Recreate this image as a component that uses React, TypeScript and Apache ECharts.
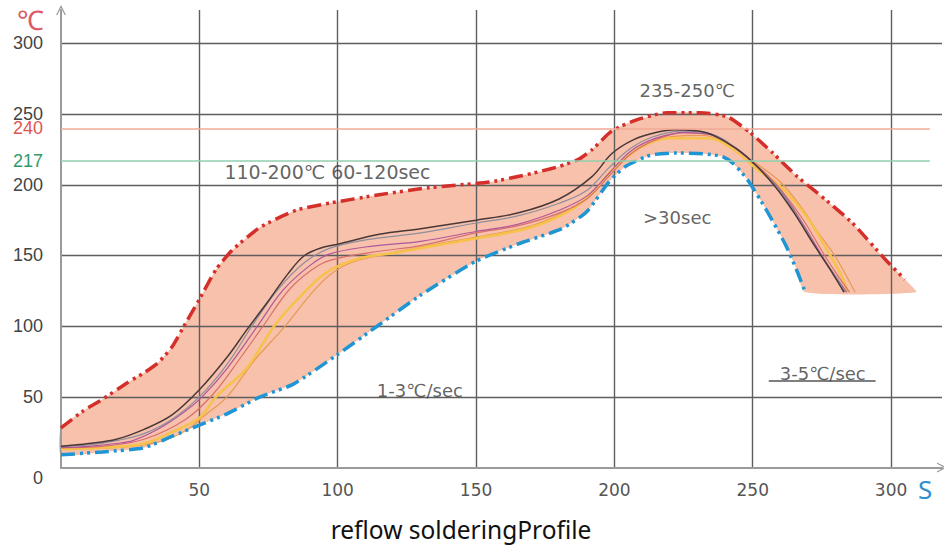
import React, { useEffect, useRef } from 'react';
import * as echarts from 'echarts';

// ---- data (time in s, temperature in ℃) ----
const upperLimit: number[][] = [
  [0, 28], [8, 40], [14, 47], [24, 60], [30, 67], [35, 74], [40, 85], [45, 102], [50, 119], [56, 140], [62, 154],
  [72, 170], [85, 182], [97, 187], [115, 193], [133, 198], [155, 202], [170, 208], [180, 213], [187, 218],
  [192, 225], [199, 238], [208, 246], [219, 251], [231, 251], [241, 248], [249, 237], [257, 223], [266, 206],
  [276, 190], [286, 173], [298, 147], [305, 133],
];
const upperFillEnd: number[][] = [[309, 124]];
const lowerLimit: number[][] = [
  [0, 9], [15, 11], [30, 14], [40, 22], [50, 30], [60, 38], [72, 50], [84, 59], [100, 80], [115, 101],
  [130, 122], [150, 146], [165, 158], [181, 169], [190, 181], [198, 202], [204, 213], [213, 221], [222, 222.5],
  [232, 222], [239, 220], [243, 215], [248, 204], [255, 182], [262, 157], [266, 139], [269, 124],
];
const curveDark: number[][] = [
  [0, 15], [10, 17], [20, 20], [30, 27], [40, 37], [50, 55], [60, 78], [67, 97], [75, 118], [82, 137],
  [88, 150], [95, 156], [100, 158], [115, 165], [130, 169], [150, 175], [165, 180], [180, 190], [192, 206],
  [199, 222], [207, 232], [215, 237], [222, 239], [233, 237], [243, 227], [250, 216], [258, 199], [265, 180],
  [272, 158], [278, 140], [283, 124],
];
const curveGray: number[][] = [
  [0, 15], [10, 16], [20, 19], [30, 24], [40, 34], [50, 50], [60, 73], [69, 100], [78, 125], [88, 145],
  [97, 155], [110, 161], [130, 166], [150, 173], [165, 178], [180, 187], [190, 196], [198, 212], [206, 226],
  [214, 234], [224, 238], [235, 236], [244, 226], [251, 214], [259, 198], [266, 178], [274, 152], [280, 135],
  [283.5, 124],
];
const curveMagenta: number[][] = [
  [0, 14], [10, 15], [20, 17], [26, 19], [35, 27], [45, 40], [51, 50], [60, 70], [71, 100], [80, 125],
  [90, 143], [97, 151], [110, 156], [130, 160], [150, 167], [165, 172], [180, 182], [190, 192], [198, 208],
  [206, 224], [215, 233], [225, 237], [236, 235], [245, 224], [252, 212], [260, 196], [267, 176], [275, 150],
  [280, 135], [284, 124],
];
const curvePink: number[][] = [
  [0, 14], [15, 15], [30, 20], [45, 34], [55, 52], [65, 78], [73, 100], [83, 127], [93, 143], [100, 148],
  [115, 153], [130, 157], [150, 166], [165, 171], [180, 180], [190, 190], [198, 206], [206, 222], [215, 232],
  [225, 237], [236, 235], [245, 224], [252, 213], [260, 197], [268, 176], [276, 150], [281, 135], [285, 124],
];
const curveYellow: number[][] = [
  [0, 13], [15, 14], [30, 17], [40, 25], [50, 35], [56, 50], [67, 70], [77, 100], [86, 120], [96, 138],
  [108, 148], [121, 152], [135, 157], [150, 162], [170, 170], [184, 182], [192, 194], [199, 210], [209, 226],
  [220, 233], [234, 233], [243, 225], [251, 212], [261, 197], [270, 176], [278, 150], [282, 136], [284.5, 124],
];
const curveOrange: number[][] = [
  [0, 13], [20, 14], [35, 18], [45, 26], [52, 37], [60, 50], [70, 76], [81, 100], [90, 122], [97, 136],
  [105, 145], [115, 150], [130, 156], [150, 163], [170, 171], [184, 183], [193, 196], [200, 212], [210, 227],
  [220, 234], [232, 235], [242, 228], [250, 217], [260, 202], [268, 183], [273, 168], [279.6, 150], [284, 135],
  [287, 124],
];
const refTemps = [240, 217];
const refLabelColors = ['#e0564f', '#2e9a6c'];
const refLineColors = ['#f3a896', '#92ceae'];
const noteTexts = ['235-250℃', '>30sec', '110-200℃ 60-120sec', '1-3℃/sec', '3-5℃/sec'];
const noteSizes = [18, 18, 19, 18, 18];
const notePos: number[][] = [[226.3, 266.4], [222.7, 176.7], [96.3, 208.8], [129.7, 54.8], [275.3, 66.8]];
const underline: number[][] = [[255.8, 61.3], [294.4, 61.3]];

const FONT = '"Liberation Sans", Arial, sans-serif';
const WIDE = '"DejaVu Sans", sans-serif';
const CHEVRON = 'path://M0,12 L6,0 L12,12 L10.4,12 L6,3.4 L1.6,12 Z';

function curve(name: string, data: number[][], color: string, width: number) {
  return {
    name, type: 'line', data, smooth: 0.35, symbol: 'none', silent: true, z: 3,
    lineStyle: { color, width },
  };
}

export default function App() {
  const ref = useRef<HTMLDivElement>(null);
  useEffect(() => {
    if (!ref.current) return;
    const chart = echarts.init(ref.current, undefined, { renderer: 'svg' });
    const fillPolygon = [...upperLimit, ...upperFillEnd, ...[...lowerLimit].reverse()];
    const dash = [14, 5, 3, 4, 3, 5];
    const gridLine = { color: '#5e5e5e', width: 1.4 };
    chart.setOption({
      animation: false,
      backgroundColor: '#ffffff',
      title: {
        text: 'reflow solderingProfile', left: 461, top: 515, textAlign: 'center', padding: 0,
        textStyle: { fontFamily: '"Noto Sans", sans-serif', fontSize: 24.5, lineHeight: 28, fontWeight: 'normal', color: '#111' },
      },
      grid: { left: 61, right: 2, top: 10, bottom: 78.5 },
      xAxis: {
        type: 'value', min: 0, max: 318.4, interval: 50,
        axisLine: { show: true, lineStyle: { color: '#9a9a9a', width: 2 }, symbol: ['none', CHEVRON], symbolSize: [12, 10] },
        axisTick: { show: false },
        axisLabel: { showMinLabel: false, showMaxLabel: false, margin: 14, fontSize: 17, color: '#555', fontFamily: WIDE },
        splitLine: { show: true, showMinLine: false, showMaxLine: false, lineStyle: gridLine },
      },
      yAxis: {
        type: 'value', min: 0, max: 323.7, interval: 50,
        axisLine: { show: true, lineStyle: { color: '#9a9a9a', width: 2 }, symbol: ['none', CHEVRON], symbolSize: [12, 10] },
        axisTick: { show: false },
        axisLabel: {
          showMaxLabel: false, margin: 18, fontSize: 18, lineHeight: 14, color: '#444', fontFamily: FONT,
          formatter: (v: number) => (v === 0 ? '{z|0}' : String(v)),
          rich: { z: { fontSize: 18, lineHeight: 14, color: '#444', fontFamily: FONT, padding: [21, 0, 0, 0] } },
        },
        splitLine: { show: true, showMinLine: false, showMaxLine: false, lineStyle: gridLine },
      },
      graphic: [
        { type: 'text', left: 17, top: 7, style: { text: '℃', fontSize: 27, fill: '#dd5a64', fontFamily: FONT } },
        { type: 'text', left: 918, top: 476, style: { text: 'S', fontSize: 26, fill: '#2f8fd0', fontFamily: '"Noto Sans", sans-serif' } },
      ],
      series: [
        {
          type: 'custom', z: -1, silent: true, clip: false, data: [[0, 0]],
          renderItem: (_p: any, api: any) => ({
            type: 'polygon',
            shape: { points: fillPolygon.map((p) => api.coord(p)), smooth: 0.2 },
            style: { fill: '#f7c1ac' },
          }),
        },
        {
          name: 'ref', type: 'line', data: [], symbol: 'none', silent: true, z: 2,
          markLine: {
            silent: true, symbol: ['none', 'none'], animation: false,
            data: [
              ...refTemps.map((t, i) => [
                {
                  coord: [0, t], lineStyle: { color: refLineColors[i], width: 1.5, type: 'solid' },
                  label: { show: true, position: 'start', distance: 18, formatter: String(t), color: refLabelColors[i], fontSize: 18, lineHeight: 14, fontFamily: FONT },
                },
                { coord: [314, t] },
              ]),
              [
                { coord: underline[0], lineStyle: { color: '#555', width: 1.5, type: 'solid' }, label: { show: false } },
                { coord: underline[1] },
              ],
            ],
          },
        },
        {
          name: 'upper', type: 'line', data: upperLimit, smooth: 0.2, symbol: 'none', silent: true, z: 4,
          lineStyle: { color: '#d42f2a', width: 3.5, type: dash, cap: 'butt' },
        },
        {
          name: 'lower', type: 'line', data: lowerLimit, smooth: 0.2, symbol: 'none', silent: true, z: 4,
          lineStyle: { color: '#1f95d4', width: 3.5, type: dash, cap: 'butt' },
        },
        curve('orange', curveOrange, '#e89a52', 1.2),
        curve('yellow', curveYellow, '#f6c24c', 2.6),
        curve('pink', curvePink, '#d9706a', 1.2),
        curve('magenta', curveMagenta, '#b0579a', 1.2),
        curve('gray', curveGray, '#8e8e9c', 1.2),
        curve('dark', curveDark, '#4a3838', 1.5),
        {
          name: 'notes', type: 'scatter', symbolSize: 0, silent: true, z: 6,
          data: notePos.map((p, i) => ({
            value: [p[0], p[1]],
            name: noteTexts[i],
            label: { fontSize: noteSizes[i] },
          })),
          itemStyle: { color: 'transparent' },
          label: {
            show: true, position: 'inside', formatter: (p: any) => p.name,
            fontSize: 18, color: '#3a3a3a', fontFamily: WIDE,
          },
        },
      ],
    });
    return () => chart.dispose();
  }, []);
  return <div ref={ref} style={{ position: 'fixed', left: 0, top: 0, width: 944, height: 546 }} />;
}
